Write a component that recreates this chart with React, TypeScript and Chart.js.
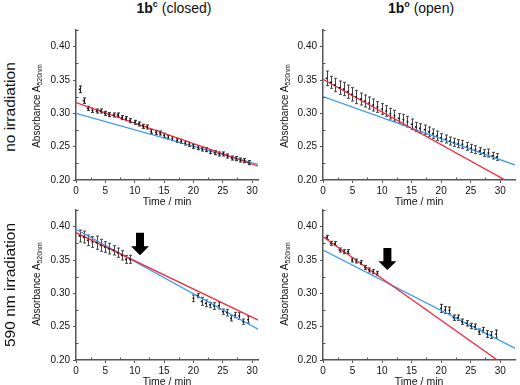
import React, { useEffect, useRef } from 'react';
import { Chart, registerables } from 'chart.js';

Chart.register(...registerables);
Chart.defaults.font.family = "'Liberation Sans', Arial, sans-serif";

// ---------- data ----------
const TIME_DARK = [0.6, 1.3, 2.0, 2.8, 3.5, 4.2, 4.9, 5.6, 6.4, 7.1, 7.8, 8.5, 9.2, 10.0, 10.7, 11.4, 12.1, 12.8, 13.6, 14.3, 15.0, 15.7, 16.4, 17.2, 17.9, 18.6, 19.3, 20.0, 20.8, 21.5, 22.2, 22.9, 23.6, 24.4, 25.1, 25.8, 26.5, 27.2, 28.0, 28.7, 29.4];
const CLOSED_DARK = [0.336, 0.319, 0.3075, 0.3045, 0.3035, 0.3035, 0.300, 0.298, 0.2975, 0.2975, 0.2935, 0.292, 0.289, 0.2865, 0.284, 0.2805, 0.2795, 0.273, 0.2715, 0.2705, 0.267, 0.264, 0.262, 0.2595, 0.258, 0.2555, 0.2535, 0.2505, 0.2485, 0.2465, 0.2455, 0.2425, 0.241, 0.239, 0.239, 0.236, 0.233, 0.232, 0.230, 0.229, 0.226];
const CLOSED_DARK_ERR = [0.005, 0.004, 0.003, 0.003, 0.003, 0.003, 0.003, 0.003, 0.003, 0.003, 0.003, 0.003, 0.003, 0.003, 0.003, 0.003, 0.003, 0.003, 0.003, 0.003, 0.003, 0.003, 0.003, 0.003, 0.003, 0.003, 0.003, 0.003, 0.003, 0.003, 0.003, 0.003, 0.003, 0.003, 0.003, 0.003, 0.003, 0.003, 0.003, 0.003, 0.003];
const OPEN_DARK = [0.3525, 0.3465, 0.3425, 0.3385, 0.3365, 0.3325, 0.3285, 0.3245, 0.3215, 0.3185, 0.3155, 0.3125, 0.3095, 0.3065, 0.3035, 0.2995, 0.2965, 0.2925, 0.2905, 0.2875, 0.2835, 0.2795, 0.2775, 0.2755, 0.2725, 0.2695, 0.2665, 0.2635, 0.2615, 0.2585, 0.2565, 0.2545, 0.2535, 0.2505, 0.2475, 0.2455, 0.2435, 0.2405, 0.2405, 0.2365, 0.2345];
const OPEN_DARK_ERR = [0.011, 0.009, 0.010, 0.010, 0.010, 0.010, 0.010, 0.010, 0.009, 0.009, 0.009, 0.009, 0.008, 0.008, 0.008, 0.008, 0.008, 0.007, 0.008, 0.008, 0.008, 0.007, 0.007, 0.007, 0.007, 0.007, 0.007, 0.006, 0.006, 0.006, 0.006, 0.006, 0.006, 0.006, 0.006, 0.006, 0.005, 0.005, 0.006, 0.005, 0.005];

const TIME_IRR = [0.6, 1.3, 2.0, 2.8, 3.5, 4.2, 4.9, 5.6, 6.4, 7.1, 7.8, 8.5, 9.2, 20.0, 20.7, 21.4, 22.1, 22.8, 23.5, 24.3, 25.0, 25.7, 26.4, 27.1, 27.8, 28.5, 29.3];
const CLOSED_IRR = [0.386, 0.3845, 0.3795, 0.377, 0.376, 0.372, 0.3695, 0.367, 0.3645, 0.361, 0.357, 0.351, 0.351, 0.2925, 0.2965, 0.288, 0.285, 0.2825, 0.281, 0.2815, 0.2725, 0.271, 0.2625, 0.2675, 0.266, 0.2575, 0.2605];
const CLOSED_IRR_ERR = [0.009, 0.009, 0.008, 0.008, 0.010, 0.009, 0.008, 0.008, 0.007, 0.007, 0.007, 0.006, 0.006, 0.005, 0.003, 0.006, 0.005, 0.004, 0.005, 0.005, 0.004, 0.005, 0.004, 0.004, 0.005, 0.004, 0.005];
const OPEN_IRR = [0.384, 0.375, 0.3745, 0.365, 0.3625, 0.3625, 0.350, 0.3485, 0.346, 0.339, 0.335, 0.3325, 0.330, 0.2775, 0.275, 0.2745, 0.2635, 0.2635, 0.2575, 0.255, 0.251, 0.250, 0.2425, 0.245, 0.239, 0.2375, 0.239];
const OPEN_IRR_ERR = [0.003, 0.003, 0.003, 0.003, 0.003, 0.003, 0.003, 0.003, 0.003, 0.003, 0.003, 0.003, 0.003, 0.006, 0.005, 0.005, 0.004, 0.004, 0.004, 0.004, 0.004, 0.004, 0.004, 0.004, 0.005, 0.005, 0.006];

// linear fits: [time, absorbance] end points
const CLOSED_DARK_RED = [[0, 0.316], [33, 0.2147]];
const CLOSED_DARK_BLUE = [[0, 0.300], [33, 0.2185]];
const OPEN_DARK_RED = [[0, 0.351], [33, 0.1893]];
const OPEN_DARK_BLUE = [[0, 0.325], [33, 0.221]];
const CLOSED_IRR_RED = [[0, 0.391], [33, 0.2514]];
const CLOSED_IRR_BLUE = [[0, 0.396], [33, 0.2363]];
const OPEN_IRR_RED = [[0, 0.385], [33, 0.178]];
const OPEN_IRR_BLUE = [[0, 0.365], [33, 0.2155]];

// arrows: [time, top absorbance, tip absorbance]
const CLOSED_IRR_ARROW = [10.9, 0.391, 0.357];
const OPEN_IRR_ARROW = [10.9, 0.368, 0.335];

const Y_TICKS = ['0.20', '0.25', '0.30', '0.35', '0.40'];
const X_TICKS = [0, 5, 10, 15, 20, 25, 30];

// ---------- styles ----------
const RED = '#f2283c';
const BLUE = '#3f9be8';
const AXIS = '#555';
const FONT = "'Liberation Sans', Arial, sans-serif";

const errPlugin = (xs: number[], ys: number[], errs: number[], color: string) => ({
  id: 'errbars',
  beforeDatasetsDraw(chart: any) {
    const { ctx, scales: { x, y } } = chart;
    ctx.save();
    ctx.strokeStyle = color;
    ctx.lineWidth = 1;
    xs.forEach((xv, i) => {
      const px = Math.round(x.getPixelForValue(xv)) + 0.5;
      const top = y.getPixelForValue(ys[i] + errs[i]);
      const bot = y.getPixelForValue(ys[i] - errs[i]);
      ctx.beginPath();
      ctx.moveTo(px, top);
      ctx.lineTo(px, bot);
      ctx.moveTo(px - 1.5, top);
      ctx.lineTo(px + 1.5, top);
      ctx.moveTo(px - 1.5, bot);
      ctx.lineTo(px + 1.5, bot);
      ctx.stroke();
    });
    ctx.restore();
  },
});

const arrowPlugin = (arrow: number[] | null) => ({
  id: 'arrow',
  afterDatasetsDraw(chart: any) {
    if (!arrow) return;
    const { ctx, scales: { x, y } } = chart;
    const cx = x.getPixelForValue(arrow[0]);
    const top = y.getPixelForValue(arrow[1]);
    const tip = y.getPixelForValue(arrow[2]);
    const headH = (tip - top) * 0.4;
    ctx.save();
    ctx.fillStyle = '#000';
    ctx.beginPath();
    ctx.moveTo(cx - 4, top);
    ctx.lineTo(cx + 4, top);
    ctx.lineTo(cx + 4, tip - headH);
    ctx.lineTo(cx + 9, tip - headH);
    ctx.lineTo(cx, tip);
    ctx.lineTo(cx - 9, tip - headH);
    ctx.lineTo(cx - 4, tip - headH);
    ctx.closePath();
    ctx.fill();
    ctx.restore();
  },
});

const minorPlugin = {
  id: 'minor',
  afterDraw(chart: any) {
    const { ctx, scales: { x, y }, chartArea } = chart;
    ctx.save();
    ctx.strokeStyle = AXIS;
    ctx.lineWidth = 1;
    ctx.beginPath();
    for (let v = 2.5; v < x.max; v += 5) {
      const px = Math.round(x.getPixelForValue(v)) + 0.5;
      ctx.moveTo(px, chartArea.bottom);
      ctx.lineTo(px, chartArea.bottom - 2.5);
    }
    for (let v = 0.225; v <= y.max + 1e-9; v += 0.05) {
      const py = Math.round(y.getPixelForValue(v)) + 0.5;
      ctx.moveTo(chartArea.left, py);
      ctx.lineTo(chartArea.left + 2.5, py);
    }
    ctx.stroke();
    ctx.restore();
  },
};

type Spec = {
  left: number; top: number; w: number; h: number; xmax: number;
  times: number[]; vals: number[]; errs: number[];
  red: number[][]; blue: number[][]; arrow: number[] | null; errColor: string;
};

const line = (pts: number[][], color: string) => ({
  data: pts.map(p => ({ x: p[0], y: p[1] })),
  showLine: true,
  borderColor: color,
  borderWidth: 1.3,
  pointRadius: 0,
  fill: false,
});

function Panel({ spec }: { spec: Spec }) {
  const ref = useRef<HTMLCanvasElement>(null);
  useEffect(() => {
    const chart = new Chart(ref.current as HTMLCanvasElement, {
      type: 'scatter',
      data: {
        datasets: [
          {
            data: spec.times.map((t, i) => ({ x: t, y: spec.vals[i] })),
            pointStyle: 'rect',
            pointRadius: 1.2,
            backgroundColor: '#111',
            borderWidth: 0,
          } as any,
          line(spec.red, RED),
          line(spec.blue, BLUE),
        ],
      },
      options: {
        animation: false,
        responsive: false,
        maintainAspectRatio: false,
        events: [],
        layout: { padding: { top: 10, left: 0, right: 0, bottom: 0 } },
        plugins: { legend: { display: false }, tooltip: { enabled: false } },
        scales: {
          x: {
            type: 'linear',
            min: 0,
            max: spec.xmax,
            afterBuildTicks: (s: any) => { s.ticks = X_TICKS.map(v => ({ value: v })); },
            ticks: { color: '#111', font: { size: 10, family: FONT }, padding: 2, maxRotation: 0, autoSkip: false },
            grid: { drawOnChartArea: false, tickLength: 3, color: AXIS, lineWidth: 1 },
            border: { color: AXIS, width: 1.5 },
            title: { display: true, text: 'Time / min', color: '#111', font: { size: 10.5, family: FONT }, padding: 0 },
            afterFit: (s: any) => { s.height = 28; },
          },
          y: {
            type: 'linear',
            min: 0.2,
            max: 0.425,
            afterBuildTicks: (s: any) => { s.ticks = Y_TICKS.map(v => ({ value: parseFloat(v) })); },
            ticks: {
              color: '#111', font: { size: 10, family: FONT }, padding: 3, autoSkip: false,
              callback: (v: any) => Number(v).toFixed(2),
            },
            grid: { drawOnChartArea: false, tickLength: 3, color: AXIS, lineWidth: 1 },
            border: { color: AXIS, width: 1.5 },
            afterFit: (s: any) => { s.width = 40; },
          },
        },
      } as any,
      plugins: [errPlugin(spec.times, spec.vals, spec.errs, spec.errColor), arrowPlugin(spec.arrow), minorPlugin],
    });
    return () => chart.destroy();
  }, []);
  return (
    <canvas
      ref={ref}
      width={spec.w}
      height={spec.h}
      style={{ position: 'absolute', left: spec.left, top: spec.top, width: spec.w, height: spec.h }}
    />
  );
}

const PANELS: Spec[] = [
  { left: 36, top: 20, w: 226, h: 188, xmax: 31, times: TIME_DARK, vals: CLOSED_DARK, errs: CLOSED_DARK_ERR, red: CLOSED_DARK_RED, blue: CLOSED_DARK_BLUE, arrow: null, errColor: '#222' },
  { left: 283, top: 20, w: 236, h: 188, xmax: 32.5, times: TIME_DARK, vals: OPEN_DARK, errs: OPEN_DARK_ERR, red: OPEN_DARK_RED, blue: OPEN_DARK_BLUE, arrow: null, errColor: '#444' },
  { left: 36, top: 200, w: 226, h: 188, xmax: 31, times: TIME_IRR, vals: CLOSED_IRR, errs: CLOSED_IRR_ERR, red: CLOSED_IRR_RED, blue: CLOSED_IRR_BLUE, arrow: CLOSED_IRR_ARROW, errColor: '#444' },
  { left: 283, top: 200, w: 236, h: 188, xmax: 32.5, times: TIME_IRR, vals: OPEN_IRR, errs: OPEN_IRR_ERR, red: OPEN_IRR_RED, blue: OPEN_IRR_BLUE, arrow: OPEN_IRR_ARROW, errColor: '#333' },
];

const rot = (cx: number, cy: number, size: number): React.CSSProperties => ({
  position: 'absolute',
  left: cx,
  top: cy,
  transform: 'translate(-50%, -50%) rotate(-90deg)',
  whiteSpace: 'nowrap',
  fontFamily: FONT,
  fontSize: size,
  color: '#111',
  lineHeight: 1,
});

function YTitle({ cx, cy }: { cx: number; cy: number }) {
  return (
    <div style={rot(cx, cy, 10)}>
      Absorbance A<sub style={{ fontSize: 7, verticalAlign: 'baseline', position: 'relative', top: 2 }}>520nm</sub>
    </div>
  );
}

function ColTitle({ cx, sup, text }: { cx: number; sup: string; text: string }) {
  return (
    <div style={{ position: 'absolute', left: cx, top: 1, transform: 'translateX(-50%)', whiteSpace: 'nowrap', fontFamily: FONT, fontSize: 14, color: '#111', lineHeight: 1 }}>
      <b>1b<sup style={{ fontSize: 9, verticalAlign: 'baseline', position: 'relative', top: -6 }}>{sup}</sup></b> {text}
    </div>
  );
}

export default function App() {
  return (
    <div style={{ position: 'absolute', left: 0, top: 0, width: 520, height: 385, background: '#fff', overflow: 'hidden' }}>
      {PANELS.map((p, i) => <Panel key={i} spec={p} />)}
      <ColTitle cx={174} sup="c" text="(closed)" />
      <ColTitle cx={421} sup="o" text="(open)" />
      <div style={rot(10, 107, 15.5)}>no irradiation</div>
      <div style={rot(10, 285, 15.5)}>590 nm irradiation</div>
      <YTitle cx={37} cy={106} />
      <YTitle cx={285} cy={106} />
      <YTitle cx={37} cy={284} />
      <YTitle cx={285} cy={284} />
    </div>
  );
}
